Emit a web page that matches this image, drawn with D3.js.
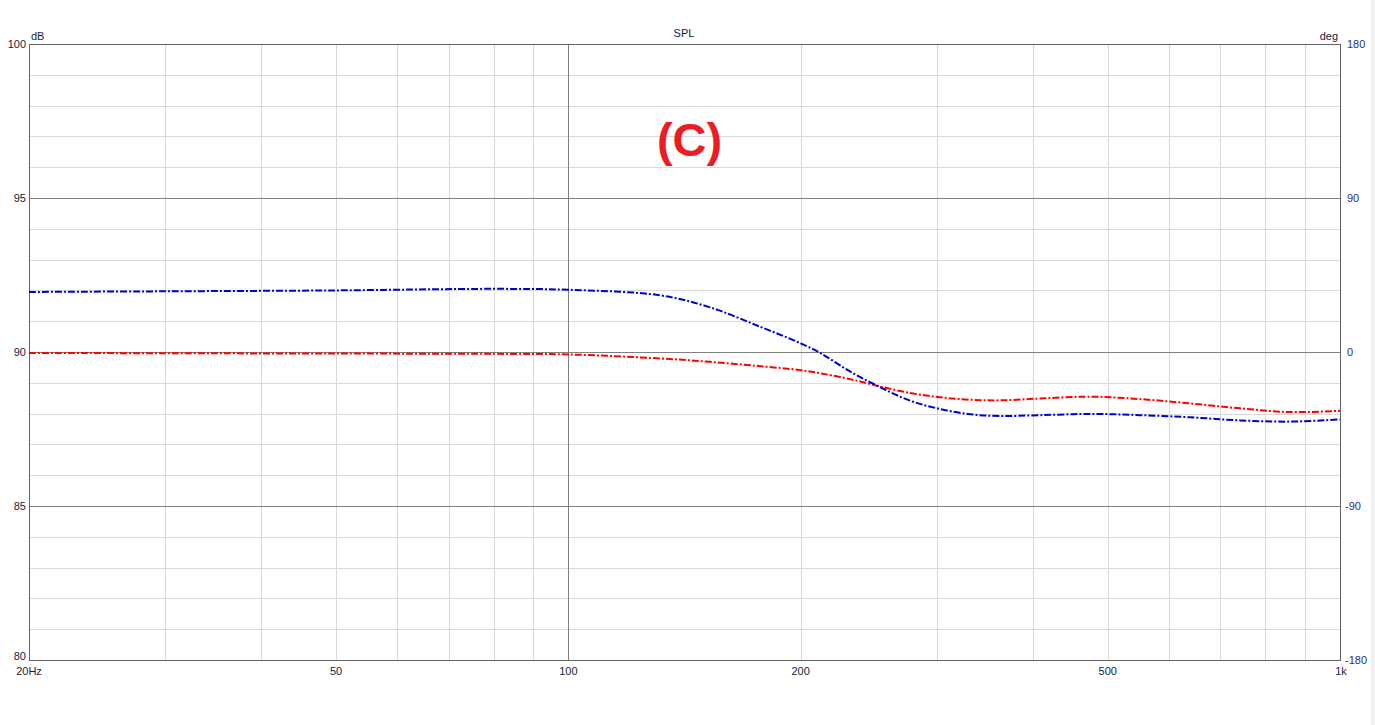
<!DOCTYPE html>
<html>
<head>
<meta charset="utf-8">
<script src="https://cdn.jsdelivr.net/npm/d3@7"></script>
<style>
  html, body { margin: 0; padding: 0; background: #fff; }
  svg { display: block; }
  text { font-family: "Liberation Sans", Arial, sans-serif; }
</style>
</head>
<body>
<svg id="chart" width="1375" height="725"></svg>
<script>
// ---- data ----
const freqs = [20, 30, 50, 80, 100, 131.5, 152.6, 177.2, 200, 212, 231.7, 253.4, 277.2, 303.1, 331.6, 362.6, 408.7, 474.6, 550.8, 639.3, 742.2, 861.6, 1000];
const blueDb = [91.95, 91.97, 92.0, 92.05, 92.02, 91.84, 91.45, 90.82, 90.28, 89.97, 89.37, 88.86, 88.42, 88.15, 87.98, 87.92, 87.95, 87.99, 87.95, 87.88, 87.78, 87.74, 87.81];
const redDb = [89.97, 89.96, 89.95, 89.94, 89.92, 89.79, 89.68, 89.54, 89.41, 89.31, 89.12, 88.88, 88.67, 88.53, 88.45, 88.43, 88.49, 88.55, 88.47, 88.33, 88.17, 88.05, 88.09];
const xTickVals = [20, 50, 100, 200, 500, 1000];
const xTickLabels = ["20Hz", "50", "100", "200", "500", "1k"];
const xMinorVals = [30, 40, 50, 60, 70, 80, 90, 200, 300, 400, 500, 600, 700, 800, 900];
const xMajorVals = [100];
const yTickVals = [80, 85, 90, 95, 100];
const yTickLabels = ["80", "85", "90", "95", "100"];
const degTickVals = [-180, -90, 0, 90, 180];
const degTickLabels = ["-180", "-90", "0", "90", "180"];
const title = "SPL";
const annotation = "(C)";

// ---- layout ----
const svg = d3.select("#chart");
const L = 29, R = 1340, T = 44, B = 660;

const x = d3.scaleLog().domain([20, 1000]).range([L, R]);
const y = d3.scaleLinear().domain([80, 100]).range([B, T]);
const yDeg = d3.scaleLinear().domain([-180, 180]).range([B, T]);

// right gray strip
svg.append("rect").attr("x", 1371).attr("y", 0).attr("width", 4).attr("height", 725).attr("fill", "#f0f0f0");

const g = svg.append("g");

// minor horizontal grid: every 1 dB
const yMinor = d3.range(81, 100).filter(v => v % 5 !== 0);
g.selectAll(".hminor").data(yMinor).enter().append("line")
  .attr("x1", L).attr("x2", R)
  .attr("y1", d => Math.round(y(d)) + 0.5).attr("y2", d => Math.round(y(d)) + 0.5)
  .attr("stroke", "#d9d9d9").attr("stroke-width", 1);

// minor vertical grid
g.selectAll(".vminor").data(xMinorVals).enter().append("line")
  .attr("y1", T).attr("y2", B)
  .attr("x1", d => Math.round(x(d)) + 0.5).attr("x2", d => Math.round(x(d)) + 0.5)
  .attr("stroke", "#d9d9d9").attr("stroke-width", 1);

// major horizontal grid
g.selectAll(".hmajor").data([85, 90, 95]).enter().append("line")
  .attr("x1", L).attr("x2", R)
  .attr("y1", d => Math.round(y(d)) + 0.5).attr("y2", d => Math.round(y(d)) + 0.5)
  .attr("stroke", "#808080").attr("stroke-width", 1);

// major vertical grid
g.selectAll(".vmajor").data(xMajorVals).enter().append("line")
  .attr("y1", T).attr("y2", B)
  .attr("x1", d => Math.round(x(d)) + 0.5).attr("x2", d => Math.round(x(d)) + 0.5)
  .attr("stroke", "#808080").attr("stroke-width", 1);

// border
g.append("rect").attr("x", L + 0.5).attr("y", T + 0.5)
  .attr("width", R - L).attr("height", B - T)
  .attr("fill", "none").attr("stroke", "#646464").attr("stroke-width", 1);

// curves
const line = d3.line().x(d => x(d[0])).y(d => y(d[1])).curve(d3.curveCatmullRom.alpha(0.5));
const redData = freqs.map((f, i) => [f, redDb[i]]);
const blueData = freqs.map((f, i) => [f, blueDb[i]]);

svg.append("path").datum(redData).attr("d", line)
  .attr("fill", "none").attr("stroke", "#ff0000").attr("stroke-width", 2)
  .attr("stroke-dasharray", "7,2,2,2");
svg.append("path").datum(blueData).attr("d", line)
  .attr("fill", "none").attr("stroke", "#0000cc").attr("stroke-width", 2)
  .attr("stroke-dasharray", "7,2,2,2");

// left axis labels
svg.selectAll(".ylab").data(yTickVals).enter().append("text")
  .attr("x", 26)
  .attr("y", (d, i) => d === 80 ? y(d) - 4 : y(d))
  .attr("dy", "0.35em")
  .attr("text-anchor", "end")
  .attr("font-size", 11).attr("fill", "#1a1a3a")
  .text((d, i) => yTickLabels[i]);

// right axis labels
svg.selectAll(".deglab").data(degTickVals).enter().append("text")
  .attr("x", (d) => d < 0 ? 1345 : 1347)
  .attr("y", d => yDeg(d))
  .attr("dy", "0.35em")
  .attr("text-anchor", "start")
  .attr("font-size", 11).attr("fill", "#1f2f7f")
  .text((d, i) => degTickLabels[i]);

// bottom axis labels
svg.selectAll(".xlab").data(xTickVals).enter().append("text")
  .attr("x", d => x(d) + (d === 1000 ? 1 : 0))
  .attr("y", 675)
  .attr("text-anchor", "middle")
  .attr("font-size", 11).attr("fill", "#1a1a3a")
  .text((d, i) => xTickLabels[i]);

// unit labels and title
svg.append("text").attr("x", 31).attr("y", 40).attr("font-size", 11).attr("fill", "#1a1a3a").text("dB");
svg.append("text").attr("x", 1338).attr("y", 40).attr("text-anchor", "end").attr("font-size", 11).attr("fill", "#1a1a3a").text("deg");
svg.append("text").attr("x", 684).attr("y", 37).attr("text-anchor", "middle").attr("font-size", 11).attr("fill", "#1a1a3a").text(title);

// annotation
svg.append("text").attr("x", 689.5).attr("y", 156).attr("text-anchor", "middle")
  .attr("font-size", 47).attr("font-weight", "bold").attr("fill", "#ec1c24")
  .text(annotation);
</script>
</body>
</html>
